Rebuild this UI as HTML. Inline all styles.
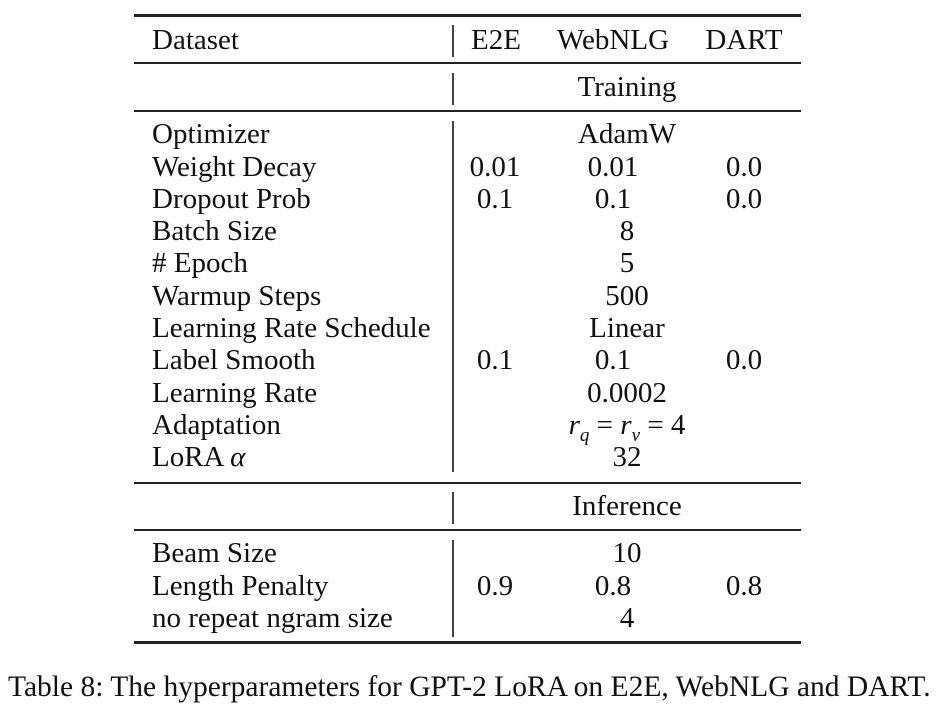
<!DOCTYPE html>
<html><head><meta charset="utf-8"><style>
html,body{margin:0;padding:0;background:#fff;}
body{width:940px;height:707px;position:relative;overflow:hidden;font-family:"Liberation Serif",serif;color:#111;font-size:29px;}
.t{position:absolute;height:32px;line-height:32px;white-space:nowrap;}
.c{transform:translateX(-50%);}
.r{position:absolute;left:134px;width:667px;background:#222;}
.v{position:absolute;left:452px;width:2px;background:#444;}
</style></head><body>
<div>
<div class="r" style="top:14px;height:3px"></div>
<div class="r" style="top:62px;height:2px"></div>
<div class="r" style="top:110px;height:2px"></div>
<div class="r" style="top:482px;height:2px"></div>
<div class="r" style="top:529px;height:2px"></div>
<div class="r" style="top:641px;height:3px"></div>
<div class="v" style="top:25px;height:32px"></div>
<div class="v" style="top:73px;height:32px"></div>
<div class="v" style="top:121px;height:351px"></div>
<div class="v" style="top:492px;height:32px"></div>
<div class="v" style="top:540px;height:97px"></div>

<div class="t" style="left:152px;top:24px">Dataset</div>
<div class="t c" style="left:496px;top:24px">E2E</div>
<div class="t c" style="left:613px;top:24px">WebNLG</div>
<div class="t c" style="left:744px;top:24px">DART</div>
<div class="t c" style="left:627px;top:71px">Training</div>

<div class="t" style="left:152px;top:118px">Optimizer</div>
<div class="t c" style="left:627px;top:118px">AdamW</div>
<div class="t" style="left:152px;top:151px">Weight Decay</div>
<div class="t c" style="left:495px;top:151px">0.01</div>
<div class="t c" style="left:613px;top:151px">0.01</div>
<div class="t c" style="left:744px;top:151px">0.0</div>
<div class="t" style="left:152px;top:183px">Dropout Prob</div>
<div class="t c" style="left:495px;top:183px">0.1</div>
<div class="t c" style="left:613px;top:183px">0.1</div>
<div class="t c" style="left:744px;top:183px">0.0</div>
<div class="t" style="left:152px;top:215px">Batch Size</div>
<div class="t c" style="left:627px;top:215px">8</div>
<div class="t" style="left:152px;top:247px"># Epoch</div>
<div class="t c" style="left:627px;top:247px">5</div>
<div class="t" style="left:152px;top:280px">Warmup Steps</div>
<div class="t c" style="left:627px;top:280px">500</div>
<div class="t" style="left:152px;top:312px">Learning Rate Schedule</div>
<div class="t c" style="left:627px;top:312px">Linear</div>
<div class="t" style="left:152px;top:344px">Label Smooth</div>
<div class="t c" style="left:495px;top:344px">0.1</div>
<div class="t c" style="left:613px;top:344px">0.1</div>
<div class="t c" style="left:744px;top:344px">0.0</div>
<div class="t" style="left:152px;top:377px">Learning Rate</div>
<div class="t c" style="left:627px;top:377px">0.0002</div>
<div class="t" style="left:152px;top:409px">Adaptation</div>
<div class="t c" style="left:627px;top:409px"><i>r</i><sub style="font-size:19px;font-style:italic;line-height:0">q</sub> = <i>r</i><sub style="font-size:19px;font-style:italic;line-height:0">v</sub> = 4</div>
<div class="t" style="left:152px;top:441px">LoRA <i>α</i></div>
<div class="t c" style="left:627px;top:441px">32</div>

<div class="t c" style="left:627px;top:490px">Inference</div>
<div class="t" style="left:152px;top:537px">Beam Size</div>
<div class="t c" style="left:627px;top:537px">10</div>
<div class="t" style="left:152px;top:570px">Length Penalty</div>
<div class="t c" style="left:495px;top:570px">0.9</div>
<div class="t c" style="left:613px;top:570px">0.8</div>
<div class="t c" style="left:744px;top:570px">0.8</div>
<div class="t" style="left:152px;top:602px">no repeat ngram size</div>
<div class="t c" style="left:627px;top:602px">4</div>
</div>
<div class="t" style="left:8px;top:671px;font-size:29.5px">Table 8: The hyperparameters for GPT-2 LoRA on E2E, WebNLG and DART.</div>
</body></html>
